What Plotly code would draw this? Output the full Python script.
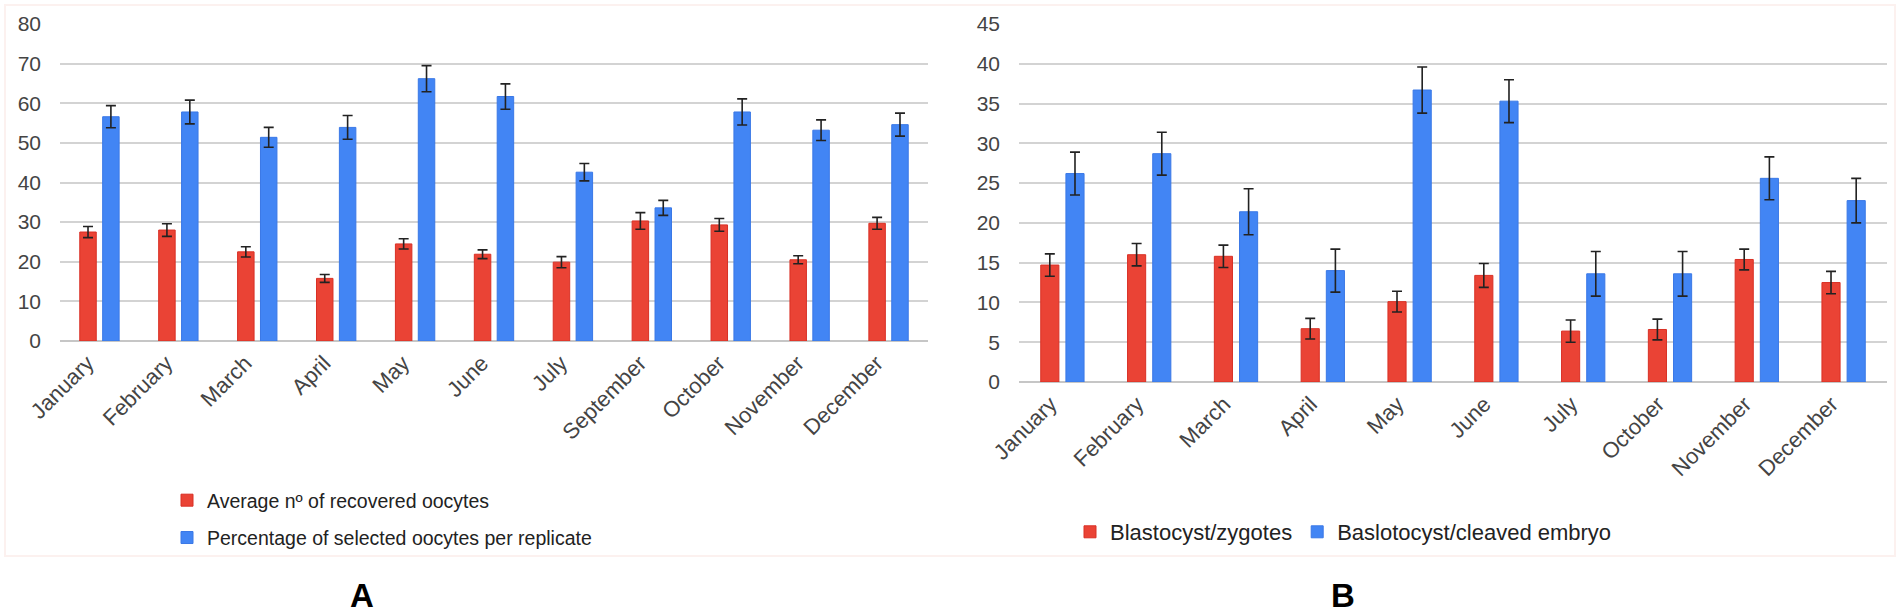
import plotly.graph_objects as go

# ---------------- Panel A data ----------------
months_a = ["January", "February", "March", "April", "May", "June", "July",
            "September", "October", "November", "December"]
recovered = [27.5, 28.0, 22.5, 15.8, 24.5, 21.9, 19.9, 30.3, 29.3, 20.5, 29.7]
recovered_err = [1.4, 1.6, 1.3, 1.0, 1.3, 1.1, 1.4, 2.1, 1.6, 1.0, 1.5]
selected_pct = [56.6, 57.8, 51.4, 53.9, 66.2, 61.7, 42.6, 33.6, 57.8, 53.2, 54.6]
selected_err = [2.8, 3.0, 2.5, 3.0, 3.3, 3.2, 2.2, 1.9, 3.3, 2.6, 2.9]

# ---------------- Panel B data ----------------
months_b = ["January", "February", "March", "April", "May", "June", "July",
            "October", "November", "December"]
blast_zyg = [14.7, 16.0, 15.8, 6.7, 10.1, 13.4, 6.4, 6.6, 15.4, 12.5]
blast_zyg_err = [1.4, 1.4, 1.4, 1.3, 1.3, 1.5, 1.4, 1.3, 1.3, 1.4]
blast_cleav = [26.2, 28.7, 21.4, 14.0, 36.7, 35.3, 13.6, 13.6, 25.6, 22.8]
blast_cleav_err = [2.7, 2.7, 2.9, 2.7, 2.9, 2.7, 2.8, 2.8, 2.7, 2.8]

yticks_a = [0, 10, 20, 30, 40, 50, 60, 70, 80]
yticks_b = [0, 5, 10, 15, 20, 25, 30, 35, 40, 45]

RED = "#EA4335"
RED_EDGE = "#D93025"
BLUE = "#4285F4"
BLUE_EDGE = "#3A78E6"
FONT = "Liberation Sans, Arial, sans-serif"
W, H = 1901, 613

fig = go.Figure()

err_style = dict(type="data", color="#222222", thickness=1.6, width=5, visible=True)

fig.add_trace(go.Bar(
    x=months_a, y=recovered, name="Average nº of recovered oocytes",
    marker=dict(color=RED, line=dict(color=RED_EDGE, width=1)),
    error_y=dict(array=recovered_err, **err_style),
    xaxis="x", yaxis="y", legend="legend", legendgroup="a1"))
fig.add_trace(go.Bar(
    x=months_a, y=selected_pct, name="Percentage of selected oocytes per replicate",
    marker=dict(color=BLUE, line=dict(color=BLUE_EDGE, width=1)),
    error_y=dict(array=selected_err, **err_style),
    xaxis="x", yaxis="y", legend="legend", legendgroup="a2"))

fig.add_trace(go.Bar(
    x=months_b, y=blast_zyg, name="Blastocyst/zygotes",
    marker=dict(color=RED, line=dict(color=RED_EDGE, width=1)),
    error_y=dict(array=blast_zyg_err, **err_style),
    xaxis="x2", yaxis="y2", legend="legend2", offsetgroup="b1"))
fig.add_trace(go.Bar(
    x=months_b, y=blast_cleav, name="Baslotocyst/cleaved embryo",
    marker=dict(color=BLUE, line=dict(color=BLUE_EDGE, width=1)),
    error_y=dict(array=blast_cleav_err, **err_style),
    xaxis="x2", yaxis="y2", legend="legend2", offsetgroup="b2"))

tickfont = dict(family=FONT, size=22, color="#444444")

xcommon = dict(tickangle=-45, tickfont=tickfont, showgrid=False, showline=False,
               ticks="", zeroline=False, fixedrange=True, ticklabelshift=-12,
               ticklabelstandoff=4, automargin=False)
ycommon = dict(tickfont=dict(family=FONT, size=21, color="#444444"),
               showgrid=True, gridcolor="#D3D3D3", gridwidth=1.5,
               zeroline=True, zerolinecolor="#C6C6C6", zerolinewidth=2,
               showline=False, ticks="", ticklabelstandoff=18, automargin=False)

fig.update_layout(
    width=W, height=H,
    margin=dict(l=0, r=0, t=0, b=0, autoexpand=False),
    paper_bgcolor="white", plot_bgcolor="white",
    barmode="group", bargap=0.42, bargroupgap=0.28,
    font=dict(family=FONT, color="#222222"),
    xaxis=dict(domain=[60 / W, 928 / W], anchor="y", **xcommon),
    yaxis=dict(domain=[1 - 341 / H, 1 - 24 / H], anchor="x", range=[0, 80],
               tickvals=yticks_a, **ycommon),
    xaxis2=dict(domain=[1019 / W, 1887 / W], anchor="y2", **xcommon),
    yaxis2=dict(domain=[1 - 382 / H, 1 - 24 / H], anchor="x2", range=[0, 45],
                tickvals=yticks_b, **ycommon),
    legend=dict(x=167 / W, xanchor="left", y=1 - 481 / H, yanchor="top",
                orientation="v", font=dict(family=FONT, size=19.5, color="#222222"),
                bgcolor="rgba(0,0,0,0)", tracegroupgap=9, itemclick=False),
    legend2=dict(x=1070 / W, xanchor="left", y=1 - 532 / H, yanchor="middle",
                 orientation="h", font=dict(family=FONT, size=22, color="#222222"),
                 bgcolor="rgba(0,0,0,0)"),
    showlegend=True,
    annotations=[
        dict(text="<b>A</b>", x=362 / W, y=1 - 595 / H, xref="paper", yref="paper",
             showarrow=False, font=dict(family=FONT, size=33, color="black"),
             xanchor="center", yanchor="middle"),
        dict(text="<b>B</b>", x=1343 / W, y=1 - 595 / H, xref="paper", yref="paper",
             showarrow=False, font=dict(family=FONT, size=33, color="black"),
             xanchor="center", yanchor="middle"),
    ],
    shapes=[
        dict(type="rect", xref="paper", yref="paper", x0=5 / W, x1=1895 / W,
             y0=1 - 556 / H, y1=1 - 5 / H, line=dict(color="#FCF1EF", width=2),
             layer="below"),
    ],
)

fig.write_html("out.html", include_plotlyjs=True,
               config={"displayModeBar": False},
               post_script="document.body.style.margin='0';document.body.style.overflow='hidden';")
